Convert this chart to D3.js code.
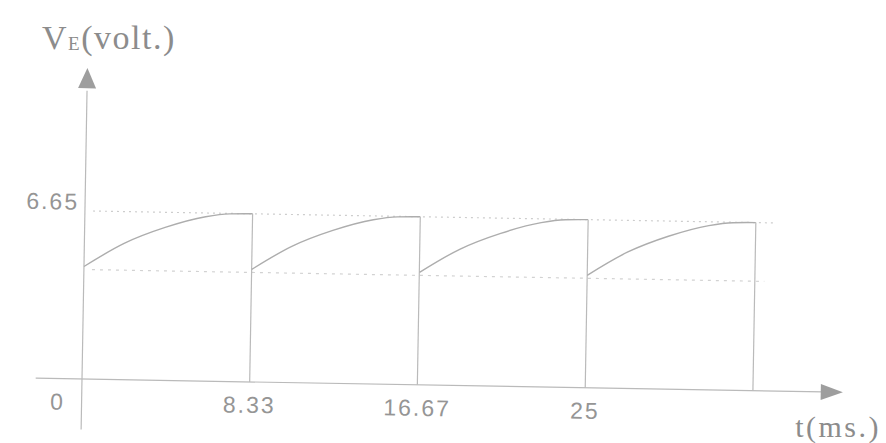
<!DOCTYPE html>
<html>
    <head>
        <meta charset="utf-8">
        <title>VE waveform</title>
        <script src="https://d3js.org/d3.v7.min.js"></script>
        <style type="text/css">
            body { margin: 0; background: #fff; }
            #chart { width: 886px; height: 443px; display: block; }
            .serif { font-family: "Liberation Serif", "DejaVu Serif", serif; fill: #8c8c8c; }
            .tick-label { font-family: "Liberation Sans", Arial, sans-serif; fill: #959595; letter-spacing: 2px; }
        </style>
    </head>
    <body>
        <svg id="chart" width="886" height="443"></svg>
        <script>
            // time points inside each period (ms) and the voltage
            var cycleStarts = [0, 8.33, 16.67, 25];
            var cycleTimes  = [0, 2.0, 4.0, 6.0, 7.2, 8.33];
            var cycleVolts  = [4.45, 5.4, 6.05, 6.5, 6.63, 6.65];
            var xTicks = [0, 8.33, 16.67, 25];
            var xTickLabels = ["0", "8.33", "16.67", "25"];
            var vMax = 6.65;
            var vMin = 4.45;

            var lineColor = "#bababa";
            var svg = d3.select("#chart");

            var x = d3.scaleLinear().domain([0, 37.8]).range([82, 843]);
            var y = d3.scaleLinear().domain([0, 12.3]).range([379, 68]);

            // the whole drawing sits slightly tilted
            var g = svg.append("g")
                .attr("transform", `rotate(1, ${x(0)}, ${y(0)})`);

            // dotted guide lines
            g.append("line")
                .attr("x1", x(0.4)).attr("x2", x(34.2))
                .attr("y1", y(vMax)).attr("y2", y(vMax))
                .attr("stroke", "#cdcdcd").attr("stroke-width", 1.2)
                .attr("stroke-dasharray", "2,4");
            g.append("line")
                .attr("x1", x(0.4)).attr("x2", x(33.8))
                .attr("y1", y(vMin) + 3).attr("y2", y(vMin) + 3)
                .attr("stroke", "#d2d2d2").attr("stroke-width", 1.2)
                .attr("stroke-dasharray", "3,5");

            // axes
            g.append("line")
                .attr("x1", x(0)).attr("x2", x(0))
                .attr("y1", y(-2.0)).attr("y2", y(11.4))
                .attr("stroke", lineColor).attr("stroke-width", 1.2);
            g.append("line")
                .attr("x1", x(-2.3)).attr("x2", x(36.8))
                .attr("y1", y(0)).attr("y2", y(0))
                .attr("stroke", lineColor).attr("stroke-width", 1.2);

            // arrow heads
            g.append("path")
                .attr("d", `M${x(0)},${y(12.3)} L${x(0) - 9},${y(11.5)} L${x(0) + 9},${y(11.5)} Z`)
                .attr("fill", "#9e9e9e");
            g.append("path")
                .attr("d", `M${x(37.8)},${y(0)} L${x(36.7)},${y(0) - 8} L${x(36.7)},${y(0) + 8} Z`)
                .attr("fill", "#9e9e9e");

            // charging curves
            var line = d3.line()
                .x(d => x(d.t))
                .y(d => y(d.v))
                .curve(d3.curveMonotoneX);

            cycleStarts.forEach(function(t0) {
                var pts = cycleTimes.map((t, i) => ({t: t0 + t, v: cycleVolts[i]}));
                g.append("path")
                    .attr("d", line(pts))
                    .attr("fill", "none")
                    .attr("stroke", "#adadad")
                    .attr("stroke-width", 1.4);
                // drop at the end of each period
                var tEnd = t0 + cycleTimes[cycleTimes.length - 1];
                g.append("line")
                    .attr("x1", x(tEnd)).attr("x2", x(tEnd))
                    .attr("y1", y(vMax)).attr("y2", y(0))
                    .attr("stroke", lineColor).attr("stroke-width", 1.2);
            });

            // tick labels
            g.selectAll("text.xtick")
                .data(xTicks)
                .enter().append("text")
                    .attr("class", "tick-label xtick")
                    .attr("x", (d, i) => i === 0 ? x(d) - 24 : x(d))
                    .attr("y", y(0) + 31)
                    .attr("text-anchor", "middle")
                    .style("font-size", "23px")
                    .text((d, i) => xTickLabels[i]);

            g.append("text")
                .attr("class", "tick-label")
                .attr("x", x(0) - 6)
                .attr("y", y(vMax) - 1)
                .attr("text-anchor", "end")
                .style("font-size", "23px")
                .text("6.65");

            // axis titles
            var yt = svg.append("text")
                .attr("class", "serif")
                .attr("x", 42).attr("y", 49)
                .style("font-size", "34px")
                .style("letter-spacing", "1.5px");
            yt.append("tspan").text("V");
            yt.append("tspan").attr("dy", 1).style("font-size", "19px").text("E");
            yt.append("tspan").attr("dy", -1).text("(volt.)");

            svg.append("text")
                .attr("class", "serif")
                .attr("x", 881).attr("y", 437)
                .attr("text-anchor", "end")
                .style("font-size", "30px")
                .style("letter-spacing", "2.5px")
                .text("t(ms.)");
        </script>
    </body>
</html>
